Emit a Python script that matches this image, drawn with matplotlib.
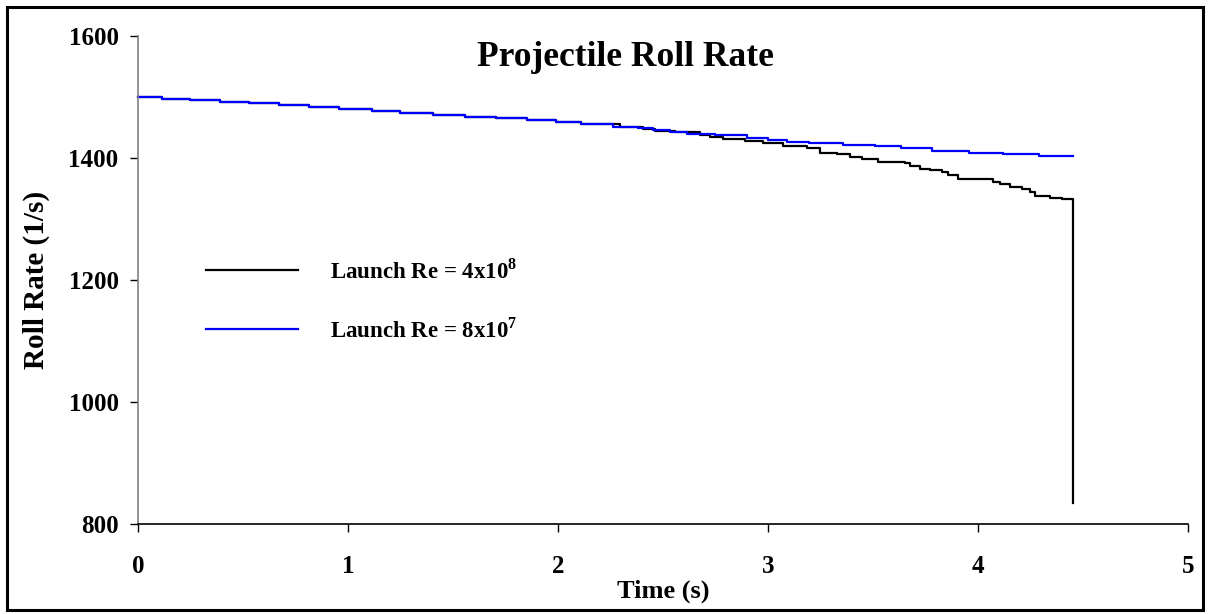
import matplotlib
matplotlib.use("Agg")
import matplotlib.pyplot as plt
from matplotlib.patches import Rectangle

plt.rcParams['font.family'] = ['Liberation Serif', 'DejaVu Serif']
plt.rcParams['font.weight'] = 'bold'
plt.rcParams['mathtext.fontset'] = 'custom'
plt.rcParams['mathtext.rm'] = 'Liberation Serif:bold'
plt.rcParams['mathtext.bf'] = 'Liberation Serif:bold'

# ---- data ----
title = "Projectile Roll Rate"
x_label = "Time (s)"
y_label = "Roll Rate (1/s)"
x_ticks = [0, 1, 2, 3, 4, 5]
y_ticks = [800, 1000, 1200, 1400, 1600]

common_t = [0.000, 0.114, 0.248, 0.390, 0.529, 0.671, 0.814, 0.957, 1.114,
            1.248, 1.405, 1.557, 1.705, 1.852, 1.990, 2.110]
common_v = [1500, 1497, 1495, 1492, 1490, 1487, 1484, 1480, 1477,
            1474, 1471, 1468, 1465, 1462, 1459, 1455]

blue_t = common_t + [2.262, 2.381, 2.452, 2.533, 2.614, 2.748, 2.900, 3.000,
                     3.090, 3.195, 3.357, 3.510, 3.633, 3.781, 3.957, 4.119,
                     4.290, 4.452]
blue_v = common_v + [1451, 1449, 1446, 1443, 1439, 1437, 1433, 1430,
                     1427, 1424, 1422, 1419, 1416, 1412, 1409, 1407,
                     1403, 1403]

black_t = common_t + [2.295, 2.405, 2.462, 2.557, 2.676, 2.724, 2.786, 2.890,
                      2.976, 3.071, 3.186, 3.248, 3.329, 3.390, 3.448, 3.524,
                      3.652, 3.676, 3.724, 3.771, 3.829, 3.857, 3.905, 4.071,
                      4.105, 4.152, 4.210, 4.248, 4.271, 4.343, 4.400, 4.452]
black_v = common_v + [1451, 1448, 1445, 1442, 1438, 1434, 1431, 1428,
                      1424, 1420, 1416, 1409, 1406, 1402, 1398, 1394,
                      1391, 1387, 1382, 1380, 1377, 1372, 1366, 1361,
                      1357, 1353, 1349, 1344, 1338, 1335, 1332, 834]

label_black = r"Launch Re = 4x10$^{8}$"
label_blue = r"Launch Re = 8x10$^{7}$"

# ---- figure ----
W, H = 1208, 614
fig = plt.figure(figsize=(W / 100, H / 100), dpi=100)
ax = fig.add_axes([138 / W, 1 - 524 / H, 1050 / W, 488 / H])

ax.step(black_t, black_v, where='post', color='black', lw=1.6,
        label=label_black, clip_on=False)
ax.step(blue_t, blue_v, where='post', color='#0000FF', lw=1.6,
        label=label_blue, clip_on=False)

ax.set_xlim(0, 5)
ax.set_ylim(800, 1600)
ax.set_xticks(x_ticks)
ax.set_yticks(y_ticks)
ax.spines['top'].set_visible(False)
ax.spines['right'].set_visible(False)
ax.spines['left'].set_color('#808080')
ax.spines['left'].set_linewidth(1.2)
ax.spines['bottom'].set_color('black')
ax.spines['bottom'].set_linewidth(1.2)
ax.tick_params(axis='x', direction='out', length=5.5, width=1.0, pad=17,
               labelsize=18, color='black')
ax.tick_params(axis='y', direction='out', length=6, width=1.0, pad=8,
               labelsize=18, color='black')
for lab in ax.get_xticklabels() + ax.get_yticklabels():
    lab.set_fontweight('bold')

ax.set_xlabel(x_label, fontsize=19, fontweight='bold', labelpad=1)
ax.set_ylabel(y_label, fontsize=21, fontweight='bold', labelpad=13)

fig.text(625 / W, 1 - 57 / H, title, ha='center', va='center',
         fontsize=25.5, fontweight='bold')

leg = ax.legend(loc='upper left', bbox_to_anchor=(195 / W, 1 - 247 / H),
                bbox_transform=fig.transFigure, frameon=False,
                fontsize=16.5, handlelength=4.0, handletextpad=1.4,
                labelspacing=1.5, borderpad=0)
for t in leg.get_texts():
    t.set_fontweight('bold')

fig.add_artist(Rectangle((7 / W, 4 / H), 1196 / W, 603 / H,
                         transform=fig.transFigure, fill=False,
                         edgecolor='black', linewidth=2.2))

fig.savefig("out.png", dpi=100)
